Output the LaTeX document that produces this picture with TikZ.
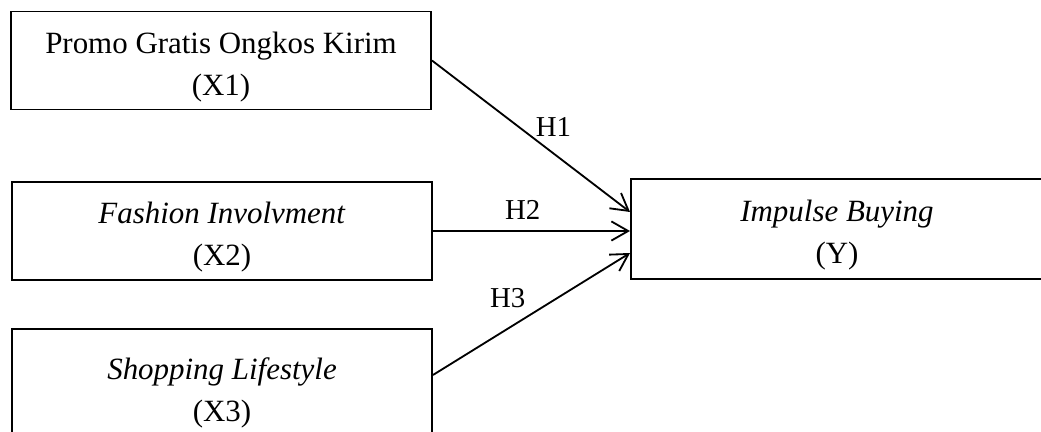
\documentclass[tikz,border=0pt]{standalone}
\usepackage{fontspec}
\setmainfont{Liberation Serif}
\usetikzlibrary{arrows.meta}
\begin{document}
\begin{tikzpicture}[x=0.025cm, y=0.025cm, >={Straight Barb[length=0.42cm, width=0.48cm]},
    varbox/.style={draw, line width=1.3pt, minimum width=10.5cm, minimum height=2.45cm,
        align=center, inner sep=0pt, font=\fontsize{22}{30}\selectfont},
    hyp/.style={inner sep=0pt, font=\fontsize{20.5}{24}\selectfont}]
    \useasboundingbox (0, 0) rectangle (1041, -432);
    \clip (0, 0) rectangle (1041, -432);
    \node[varbox] (X1) at (221, -60.5) {\rule{0pt}{1.1em}Promo Gratis Ongkos Kirim\\(X1)};
    \node[varbox] (X2) at (222, -231) {\rule{0pt}{1.1em}\textit{Fashion Involvment}\\(X2)};
    \node[varbox, minimum height=2.9cm] (X3) at (222, -387) {\rule{0pt}{1.1em}\textit{Shopping Lifestyle}\\(X3)};
    \node[varbox, minimum width=10.3cm, minimum height=2.5cm] (Y) at (837, -229) {\rule{0pt}{1.1em}\textit{Impulse Buying}\\(Y)};
    \draw[->, line width=1.3pt] (X1.east) -- ([yshift=0.425cm]Y.west)
        node[hyp, pos=0.55, shift={(12.5, 16.6)}] (h1) {H1};
    \draw[->, line width=1.3pt] (X2.east) -- (X2.east -| Y.west)
        node[hyp, pos=0.455, shift={(0, 21)}] (h2) {H2};
    \draw[->, line width=1.3pt] ([yshift=0.3cm]X3.east) -- ([yshift=-0.6cm]Y.west)
        node[hyp, pos=0.45, shift={(-14, 22)}] (h3) {H3};
\end{tikzpicture}
\end{document}
